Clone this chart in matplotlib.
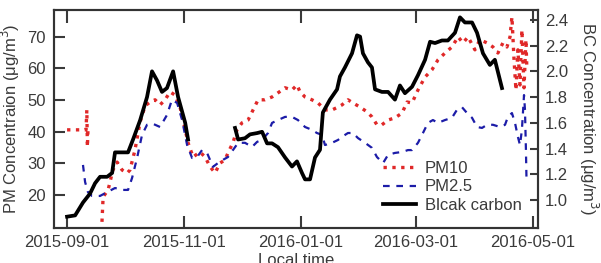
import numpy as np
import matplotlib
matplotlib.use('Agg')
import matplotlib.pyplot as plt
import matplotlib.dates as mdates
from datetime import datetime

# days since 2015-09-01
pm10_day = [0, 3, 6, 9, 9.9, 10.3, 10.6, 10.9, np.nan,
            18.2, 18.8, 21.4, 23.9, 26.1, 28.7, 31.3, 32.8, 35.4, 38.1, 40.7, 43.3,
            45.9, 48.5, 51.1, 53.7, 56.3, 58.9, 60.5, 63.1, 65.7, 69.3, 72.0, 74.6,
            77.2, 79.8, 82.4, 83.9, 86.5, 88.6, 91.2, 94.4, 97.0, 99.6, 103.2, 106.9,
            110.0, 113.7, 117.3, 119.9, 121.5, 124.1, 127.7, 130.9, 134.5, 138.2,
            141.3, 143.4, 146.5, 149.1, 152.8, 156.4, 159.0, 161.6, 164.2, 167.4,
            171.0, 174.7, 177.3, 179.9, 183.0, 186.7, 190.3, 193.4, 197.1, 200.7,
            203.9, 206.5, 209.1, 212.7, 215.3, 219.0, 222.1, 224.7, 227.3, 229.4,
            231.0, 232.0, 233.1, 234.1, 235.1, 236.2, 237.2, 238.3, 239.3, 239.8]
pm10 = [40.6, 40.6, 40.6, 40.6, 40.6, 46.9, 35.2, 40.6, np.nan,
        11.5, 19.4, 21.6, 27.9, 30.4, 27.9, 26.9, 27.9, 34.2, 43.1, 48.2, 49.4,
        50.1, 48.5, 50.1, 52.6, 51.6, 47.8, 43.7, 36.5, 32.0, 33.6, 32.0, 28.9,
        27.0, 30.1, 31.1, 33.3, 36.5, 40.6, 42.8, 43.7, 46.9, 50.1, 50.1, 51.0,
        52.3, 53.9, 53.2, 54.8, 52.6, 51.0, 50.1, 49.1, 46.9, 46.9,
        47.8, 48.5, 50.1, 49.1, 47.8, 46.3, 44.7, 42.2, 42.2, 43.7,
        44.4, 45.9, 49.4, 49.1, 53.2, 57.3, 59.6, 62.7, 64.9, 66.8,
        70.0, 68.1, 70.0, 65.9, 69.1, 68.1, 66.8, 64.9, 68.1, 66.8,
        70.0, 76.3, 62.7, 53.2, 65.9, 54.8, 72.2, 53.9, 69.1, 59.6]

pm25_day = [8.3, 9.4, 10.9, 13.0, 17.2, 20.9, 25.0, 29.2, 31.8, 33.9, 36.5, 39.1,
            41.7, 44.8, 48.5, 52.1, 54.7, 57.4, 60.0, 62.6, 65.2, 67.8, 70.4, 73.0,
            76.1, 78.7, 81.3, 83.9, 86.5, 89.2, 92.8, 96.5, 99.1, 101.7, 104.8,
            106.9, 110.0, 113.7, 117.3, 120.4, 124.1, 127.7, 130.3, 133.0, 134.5,
            138.2, 141.3, 143.4, 146.5, 149.1, 151.7, 155.4, 159.0, 161.6, 164.8,
            167.4, 171.0, 174.7, 177.8, 179.9, 183.0, 185.6, 188.2, 190.8, 193.4,
            197.1, 200.7, 203.3, 205.9, 208.6, 211.2, 213.8, 216.4, 219.0, 222.1,
            225.8, 228.4, 229.9, 232.0, 233.6, 235.1, 236.2, 237.2, 238.3, 238.8,
            239.3, 239.6]
pm25 = [29.5, 24.1, 20.9, 19.7, 19.7, 20.9, 22.2, 21.6, 21.6, 25.4, 31.7, 39.0,
        42.2, 42.5, 41.5, 45.3, 50.1, 49.1, 43.7, 35.8, 31.7, 32.0, 34.2, 33.3,
        28.9, 30.1, 31.1, 32.0, 34.2, 36.5, 36.5, 35.2, 36.8, 37.4, 39.6,
        42.8, 43.7, 44.7, 44.7, 43.7, 41.5, 40.6, 39.6, 39.0, 35.8,
        36.5, 37.4, 38.4, 39.6, 39.6, 38.0, 36.5, 34.9, 32.0, 30.1,
        32.7, 33.3, 33.6, 34.2, 34.2, 36.5, 39.6, 42.8, 43.7, 42.8,
        43.7, 44.4, 46.9, 47.8, 45.9, 44.4, 41.5, 41.2, 42.2, 42.2,
        41.5, 42.2, 44.7, 45.9, 42.8, 38.4, 35.8, 40.6, 51.6, 46.9,
        34.2, 24.7]

bc_day = [0, 4.2, 8.3, 12.0, 14.6, 17.2, 20.9, 23.5, 25.0, 29.2, 31.8, 34.4, 38.1,
          41.7, 44.3, 46.9, 49.5, 52.1, 55.3, 57.9, 61.6, 63.1, np.nan,
          87.6, 89.2, 92.8, 95.4, 99.1, 101.7, 104.3, 106.9, 110.0, 113.7, 117.3,
          119.9, 122.5, 124.1, 126.7, 129.3, 131.9, 133.4, 137.1, 140.8, 142.3,
          144.9, 148.6, 151.2, 152.8, 154.3, 156.9, 159.0, 160.6, 164.2, 167.4,
          171.0, 173.6, 176.2, 179.9, 183.0, 186.7, 189.3, 191.9, 195.5, 198.6,
          202.3, 204.9, 207.5, 211.2, 213.8, 216.9, 220.5, 223.1, 226.8]
bc = [0.87, 0.88, 0.98, 1.05, 1.13, 1.18, 1.18, 1.21, 1.37, 1.37, 1.37, 1.47, 1.62,
      1.80, 2.00, 1.93, 1.84, 1.87, 2.00, 1.80, 1.60, 1.47, np.nan,
      1.56, 1.47, 1.48, 1.51, 1.52, 1.53, 1.44, 1.44, 1.41, 1.33, 1.26,
      1.30, 1.21, 1.16, 1.16, 1.33, 1.39, 1.68, 1.78, 1.86, 1.96,
      2.03, 2.14, 2.28, 2.27, 2.14, 2.07, 2.03, 1.86, 1.84, 1.84,
      1.78, 1.89, 1.83, 1.88, 1.97, 2.09, 2.23, 2.22, 2.24, 2.24,
      2.30, 2.42, 2.38, 2.38, 2.30, 2.14, 2.05, 2.09, 1.87]

t0 = mdates.date2num(datetime(2015, 9, 1))
xticks = ['2015-09-01', '2015-11-01', '2016-01-01', '2016-03-01', '2016-05-01']

plt.rcParams['font.family'] = ['Liberation Sans', 'DejaVu Sans']
plt.rcParams['font.size'] = 12
txt = '#3a3a3a'

fig = plt.figure(figsize=(6.01, 2.63), dpi=100)
ax = fig.add_axes([0.0899, 0.1331, 0.8053, 0.8289])
ax2 = ax.twinx()

l1, = ax.plot(t0 + np.array(pm10_day), pm10, ':', color='#e02828', lw=2.4)
l2, = ax.plot(t0 + np.array(pm25_day), pm25, '--', color='#1c1ca8', lw=1.6, dashes=(3, 3))
l3, = ax2.plot(t0 + np.array(bc_day), bc, '-', color='black', lw=2.7)

ax.set_xlim(t0 - 6.8, t0 + 245.6)
ax.set_ylim(9.56, 78.5)
ax2.set_ylim(0.782, 2.477)

ax.set_xticks([mdates.date2num(datetime.strptime(s, '%Y-%m-%d')) for s in xticks])
ax.set_xticklabels(xticks)
ax.set_yticks([20, 30, 40, 50, 60, 70])
ax2.set_yticks([1.0, 1.2, 1.4, 1.6, 1.8, 2.0, 2.2, 2.4])
ax2.set_yticklabels(['%.1f' % v for v in ax2.get_yticks()])

ax.tick_params(axis='x', direction='in', length=9, width=1.5, top=True, pad=5, colors=txt)
ax.tick_params(axis='y', direction='in', length=8, width=1.5, pad=6, colors=txt)
ax2.tick_params(axis='y', direction='in', length=6, width=1.5, pad=5, colors=txt)
for a in (ax, ax2):
    for s in a.spines.values():
        s.set_linewidth(1.5)
        s.set_color('#333333')

ax.set_xlabel('Local time', color=txt, labelpad=2)
ax.set_ylabel('PM Concentraion (\u03bcg/m$^3$)', color=txt)
ax.yaxis.set_label_coords(-0.066, 0.5)
ax2.set_ylabel('BC Concentration (\u03bcg/m$^3$)', color=txt, rotation=270, va='center')
ax2.yaxis.set_label_coords(1.105, 0.5)

leg = ax2.legend([l1, l2, l3], ['PM10', 'PM2.5', 'Blcak carbon'], loc='lower left',
                 bbox_to_anchor=(0.68, 0.07), frameon=False, borderpad=0,
                 borderaxespad=0, handlelength=2.0, handletextpad=0.5, labelspacing=0.2)
for t in leg.get_texts():
    t.set_color(txt)

fig.savefig('out.png', dpi=100)
